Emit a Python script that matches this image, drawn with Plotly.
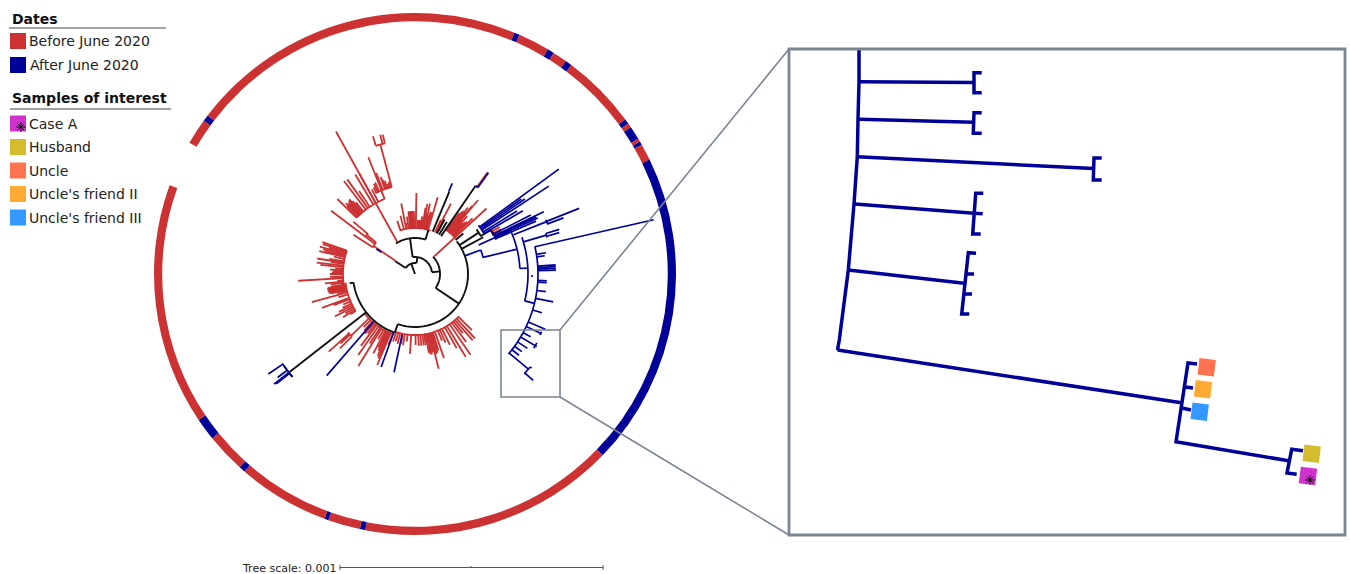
import numpy as np
import plotly.graph_objects as go

RED = "#CC3232"
NAVY = "#000099"
BLACK = "#111111"
GREY = "#7C8592"

# ---- outer date ring: start angle, end angle (degrees clockwise from north)
ring_start = [300.2, 306.0, 307.4, 382.4, 383.6, 390.6, 392.1, 395.3, 396.8, 413.7, 414.8, 415.8, 418.8, 419.5, 420.3, 424.0, 494.0, 551.0, 552.2, 559.4, 560.3, 580.8, 582.2, 591.0, 596.0]
ring_end   = [306.0, 307.4, 382.4, 383.6, 390.6, 392.1, 395.3, 396.8, 413.7, 414.8, 415.8, 418.8, 419.5, 420.3, 424.0, 494.0, 551.0, 552.2, 559.4, 560.3, 580.8, 582.2, 591.0, 596.0, 649.9]
ring_kind  = ["B", "A", "B", "A", "B", "A", "B", "A", "B", "A", "B", "A", "B", "A", "B", "A", "B", "A", "B", "A", "B", "A", "B", "A", "B"]

# ---- black backbone: stems (angle, inner radius, outer radius)
black_stem_theta = [340, 303, 8, 352, 84, 124, 17, 199, 262, 22.6, 28.5, 31.5, 34.5, 50, 57, 61.7, 60, 232]
black_stem_r0    = [0, 11, 11, 17, 17, 25, 36, 53, 62, 46, 46, 46, 46, 53, 53, 53, 76, 62]
black_stem_r1    = [11, 24, 17, 36, 25, 53, 46, 62, 66, 89, 62, 61, 107, 63, 76, 77.5, 88, 160]
# black arcs (from angle, to angle, radius)
black_arc_from = [303, 352, 46, 328, 52, 199, 230, 54, 59.5]
black_arc_to   = [368, 444, 124, 377, 199, 262, 235, 60.5, 64]
black_arc_r    = [11, 17, 25, 36, 53, 62, 160, 76, 87.5]

# ---- red clades: angle and tip radius, fan base radius
top_theta = [-18.5, -14, -11, -10, -8, -6, -5, -4, -3, -2, -1, 1, 3, 4, 5, 6, 7, 8, 9, 10, 11, 12, 13, 14, 15, 16.5]
top_tip   = [56, 60, 72, 52, 58, 63, 63, 63, 63, 63, 63, 81, 54, 54, 54, 54, 58, 55, 67, 71, 62, 72, 60, 64, 64, 80]

up_theta = [314, 315, 315.7, 316.5, 317, 317.5, 318, 318.7, 319.5, 320.5, 322.6, 324.4, 326, 329, 331, 333]
up_tip   = [108, 96, 99, 97, 96, 98, 99, 99.5, 96, 93, 117, 116.4, 100, 116, 114.7, 95]

upper_theta = [334.5, 335.5, 336.5, 338.2, 339, 340.5, 341, 342, 343, 344]
upper_tip   = [96, 99, 100, 125.7, 108, 103, 100, 98, 94, 96]

left_a_theta = [289, 288, 287, 286, 285, 284, 283.5, 282, 280, 279, 278, 276.6, 275.5, 274, 273, 272, 271, 270, 268, 267, 266.7, 265, 264, 263]
left_a_tip   = [98, 97, 90, 99, 95, 93, 98.5, 83, 87, 99, 85, 99, 95, 80, 85, 82, 83, 85, 85, 83, 117, 78, 90.5, 85]

left_b_theta = [261.5, 261, 260.5, 260, 259.5, 259, 258.5, 258, 257.5, 257, 256, 254.7, 253, 250, 249, 247, 245, 243.5, 242, 240.5, 239, 238]
left_b_tip   = [85, 88, 89, 88, 89, 88, 89, 88, 88, 86, 80, 107, 80, 99, 87, 78, 80, 85, 90.7, 80, 84, 76]

low_left_theta = [200.5, 202.5, 203.5, 204.5, 205.5, 206.5, 207.7, 209.5, 211.6, 213, 215, 217, 218.5, 220, 222, 224]
low_left_tip   = [76, 98.5, 92, 90, 85, 82, 89.6, 75, 108, 83, 99, 90, 76, 78, 76, 74]

bottom_theta = [134.6, 137, 139, 141, 143, 145.5, 148.5, 150.7, 153.8, 156, 158, 161, 163, 164, 165, 166, 167, 168, 169, 170, 171.4, 173, 175, 177, 179.5, 183.6, 187, 189.6, 191.5, 194, 196, 198]
bottom_tip   = [80, 88, 88, 76, 85, 98, 97, 85, 79, 75, 72, 89, 80, 82, 83, 97.6, 80, 82, 82, 80, 72, 72, 72, 72, 71, 80, 68, 72, 71, 72, 70, 71]

right_theta = [36, 37, 37.7, 38.5, 39.3, 40, 40.5, 41.5, 42, 43, 44, 45, 46]
right_tip   = [75, 78, 80, 85, 80, 89, 97, 72, 78, 70, 72, 74, 80]

# remaining single red branches
red_stem_theta = [331, 338, 345, 343, 346, 347, 304, 302.5, 307, 309, 310.3, 27, 25.5, 47.5, 61, 62.5, 63.5, 226, 225.3, 228, 227, 227.5, 35.5]
red_stem_r0    = [36, 81, 90, 134, 134, 134, 24, 50, 50, 50, 62, 46, 46, 26, 88, 88, 88, 64, 89, 89, 89, 89, 107]
red_stem_r1    = [163, 90, 134, 144, 143.5, 143, 50, 73, 105, 62, 81, 79, 60, 97, 97, 97, 96, 89, 105.6, 116, 102, 99, 125]
red_arc_from = [341, 314, 334, 343, 262, 238, 200, 134, 35, 302, 307, 225, 34.5]
red_arc_to   = [380, 338, 345, 347, 289, 263, 232, 199, 49, 309, 311, 229, 35.5]
red_arc_r    = [46, 81, 90, 134, 72, 70, 64, 61, 54, 50, 62, 89, 107]

# ---- blue clades
blue_stem_theta = [22.3, 36, 70, 65.5, 76.3, 87, 68.3, 68.2, 69.3, 73.5, 74, 72.8, 103.8, 91, 77.2,
                   53.9, 56.7, 54.8, 55.7, 59.6, 58.3,
                   64.2, 64.8, 65.5, 66.4, 63,
                   80.8, 82, 86.3, 87, 87.7, 88.4, 93, 93.8, 97.7, 101.4, 107,
                   113, 115.3, 118.5, 120.8, 123.5, 126, 128, 130, 128.9, 132.3, 132,
                   192, 200, 221, 235.7, 232, 231.6, 233, 303]
blue_stem_r0    = [89, 107, 53, 70, 70, 105, 106, 141.7, 141.7, 113, 137, 137, 113, 116, 123,
                   80, 80, 80, 80, 80, 80,
                   88, 88, 88, 88, 88,
                   123, 123, 123, 123, 123, 123, 123, 123, 123, 123, 123,
                   123, 123, 123, 123, 123, 123, 123, 123, 148, 148, 148,
                   62, 62, 63, 160, 160, 160, 160, 40]
blue_stem_r1    = [98, 125, 70, 106, 104, 112, 141.7, 176.7, 158.8, 137, 150, 151, 123, 118, 244.7,
                   178, 160, 130, 133, 125, 120,
                   143, 134, 135, 132, 130,
                   132.7, 131, 141, 141, 141, 141, 132, 132, 132, 141, 132.7,
                   141.6, 140, 131.6, 141.8, 134.7, 132, 132, 148, 150, 148.7, 159,
                   100.5, 99, 134.6, 177.5, 179, 177, 172, 46]
blue_arc_from = [70, 66, 71, 67.5, 72.7, 77, 128.9, 119.5, 114.5, 52.5, 61, 230, 34.5]
blue_arc_to   = [76.3, 87, 103.8, 69.5, 74.5, 130.6, 132.3, 122, 116, 60, 67, 236, 36]
blue_arc_r    = [70, 105, 113, 141.7, 137, 123, 148, 140, 139, 80, 88, 160, 107]

# ---- enlarged clade in the inset
inset_x = [859, 859, 858, 857.3, 854, 848.3, 839.3, 837.5, None, 860, 974, None, 981.7, 974, 974, 981.7, None,
           859, 973.5, None, 981.7, 974, 973.3, 981.7, None, 857.3, 1093.5, None, 1101.7, 1094, 1093.3, 1101.7, None,
           855, 974, None, 983.3, 975.7, 972.7, 980.7, None, 974, 982.7, None,
           848.3, 964, None, 976, 968.3, 961.7, 969.3, None, 966, 974, None, 964, 972, None,
           837.5, 1183, None, 1197, 1188, 1176, 1290, None, 1185, 1193, None, 1182, 1191, None,
           1303, 1291.7, 1287, 1296.7]
inset_y = [50, 82, 119, 156.7, 204, 270, 340, 350, None, 81.7, 82.5, None, 72.7, 72.7, 92.7, 92.7, None,
           119.3, 122.3, None, 112.7, 112.7, 133.3, 133.3, None, 156.7, 168.5, None, 158, 158, 180, 180, None,
           204, 213.3, None, 193.3, 193.3, 234, 234, None, 213.3, 213.7, None,
           270, 283.3, None, 253.3, 252.7, 314, 314, None, 274, 274, None, 294, 294, None,
           350, 403, None, 364, 363, 441.7, 461, None, 387, 388, None, 408, 410, None,
           450.7, 449.3, 473, 474.3]

sample_names  = ["Case A", "Husband", "Uncle", "Uncle's friend II", "Uncle's friend III"]
sample_colors = ["#D033CC", "#D4BC2E", "#FF7351", "#FFAA33", "#3399FF"]
sample_x = [1308, 1311.7, 1206.7, 1203, 1199.7]
sample_y = [476, 453.7, 367.3, 389.3, 411.7]
date_names = ["Before June 2020", "After June 2020"]
date_colors = [RED, NAVY]


def segs(stem_t, stem_a, stem_b, arc_from, arc_to, arc_r):
    th, rr = [], []
    for t, a, b in zip(stem_t, stem_a, stem_b):
        th += [t, t, None]
        rr += [a, b, None]
    for a, b, r in zip(arc_from, arc_to, arc_r):
        n = max(2, int(abs(b - a) / 2) + 2)
        th += list(np.linspace(a, b, n)) + [None]
        rr += [r] * n + [None]
    return th, rr


def fan(thetas, tips, base):
    return list(thetas), [base] * len(thetas), list(tips)


fig = go.Figure()

# ring
ring_col = [RED if k == "B" else NAVY for k in ring_kind]
fig.add_trace(go.Barpolar(
    theta=[(a + b) / 2 for a, b in zip(ring_start, ring_end)],
    width=[b - a for a, b in zip(ring_start, ring_end)],
    r=[8.2] * len(ring_start), base=[252.8] * len(ring_start),
    marker=dict(color=ring_col, line=dict(width=0)), hoverinfo="skip", showlegend=False))

# red layer
rt, ra, rb = list(red_stem_theta), list(red_stem_r0), list(red_stem_r1)
for thetas, tips, base in [(top_theta, top_tip, 46), (up_theta, up_tip, 81), (upper_theta, upper_tip, 90),
                           (left_a_theta, left_a_tip, 72), (left_b_theta, left_b_tip, 70),
                           (low_left_theta, low_left_tip, 64), (bottom_theta, bottom_tip, 61),
                           (right_theta, right_tip, 54)]:
    a, b, c = fan(thetas, tips, base)
    rt += a; ra += b; rb += c
th, rr = segs(rt, ra, rb, red_arc_from, red_arc_to, red_arc_r)
fig.add_trace(go.Scatterpolar(theta=th, r=rr, mode="lines", line=dict(color=RED, width=1.8),
                              hoverinfo="skip", showlegend=False))
th, rr = segs(black_stem_theta, black_stem_r0, black_stem_r1, black_arc_from, black_arc_to, black_arc_r)
fig.add_trace(go.Scatterpolar(theta=th, r=rr, mode="lines", line=dict(color=BLACK, width=1.9),
                              hoverinfo="skip", showlegend=False))
th, rr = segs(blue_stem_theta, blue_stem_r0, blue_stem_r1, blue_arc_from, blue_arc_to, blue_arc_r)
fig.add_trace(go.Scatterpolar(theta=th, r=rr, mode="lines", line=dict(color=NAVY, width=1.7),
                              hoverinfo="skip", showlegend=False))

# inset tree and its sample squares
fig.add_trace(go.Scatter(x=inset_x, y=inset_y, mode="lines", line=dict(color=NAVY, width=3.5),
                         hoverinfo="skip", showlegend=False))
fig.add_trace(go.Scatter(x=sample_x, y=sample_y, mode="markers",
                         marker=dict(symbol="square", size=16.5, angle=7, color=sample_colors, line=dict(width=0)),
                         hoverinfo="skip", showlegend=False))

# legend swatches
fig.add_trace(go.Scatter(x=[18, 18], y=[41, 65], mode="markers",
                         marker=dict(symbol="square", size=16, color=date_colors, line=dict(width=0)),
                         hoverinfo="skip", showlegend=False))
fig.add_trace(go.Scatter(x=[18] * 5, y=[123.5, 147, 170.5, 194, 217.5], mode="markers",
                         marker=dict(symbol="square", size=16, color=sample_colors, line=dict(width=0)),
                         hoverinfo="skip", showlegend=False))
# asterisk on the Case A squares, above everything else
fig.add_trace(go.Scatter(x=[sample_x[0] + 2, 21], y=[sample_y[0] + 4, 127], mode="markers",
                         marker=dict(symbol="asterisk-open", size=8, color="#111111",
                                     line=dict(color="#111111", width=1)),
                         hoverinfo="skip", showlegend=False))


def label(x, y, text, size=14, bold=False, color="#222222"):
    fig.add_annotation(x=x, y=y, xref="x", yref="y", text=f"<b>{text}</b>" if bold else text,
                       showarrow=False, xanchor="left", yanchor="middle",
                       font=dict(family="DejaVu Sans", size=size, color=color))


label(10, 19, "Dates", 14, True, "#111111")
label(27, 41, date_names[0])
label(28, 65, date_names[1])
label(10, 98, "Samples of interest", 14, True, "#111111")
for nm, yy in zip(sample_names, [123.5, 147, 170.5, 194, 217.5]):
    label(27, yy, nm)
label(240, 568, "Tree scale: 0.001", 11)

sh = []
def seg(x0, y0, x1, y1, col, w):
    sh.append(dict(type="line", xref="x", yref="y", x0=x0, y0=y0, x1=x1, y1=y1, line=dict(color=col, width=w), layer="above"))
seg(9, 28, 166, 28, "#444444", 1)
seg(10, 109, 171, 109, "#444444", 1)
seg(340, 567.5, 603, 567.5, "#555555", 1)
seg(340, 565, 340, 570, "#555555", 1)
seg(471, 566, 471, 568, "#555555", 1)
seg(603, 565, 603, 570, "#555555", 1)
seg(560, 330, 789, 49, GREY, 1.6)
seg(560, 397, 789, 535, GREY, 1.6)
sh.append(dict(type="rect", xref="x", yref="y", x0=501, y0=330, x1=560, y1=397, line=dict(color=GREY, width=1.6), layer="above"))
sh.append(dict(type="rect", xref="x", yref="y", x0=789, y0=49, x1=1345, y1=535, line=dict(color=GREY, width=2.8), layer="above"))

W, H = 1350, 574
CX, CY, R = 415, 274, 265
fig.update_layout(
    width=W, height=H, margin=dict(l=0, r=0, t=0, b=0),
    paper_bgcolor="white", plot_bgcolor="rgba(0,0,0,0)", shapes=sh,
    xaxis=dict(range=[0, W], domain=[0, 1], visible=False, fixedrange=True),
    yaxis=dict(range=[H, 0], domain=[0, 1], visible=False, fixedrange=True),
    polar=dict(
        domain=dict(x=[(CX - R) / W, (CX + R) / W], y=[1 - (CY + R) / H, 1 - (CY - R) / H]),
        bgcolor="rgba(0,0,0,0)", barmode="overlay",
        radialaxis=dict(range=[0, R], visible=False, showgrid=False),
        angularaxis=dict(direction="clockwise", rotation=90, visible=False, showgrid=False),
    ),
    showlegend=False,
)

fig.write_html("out.html", config={"displayModeBar": False},
               post_script="document.body.style.margin='0';document.body.style.overflow='hidden';")
